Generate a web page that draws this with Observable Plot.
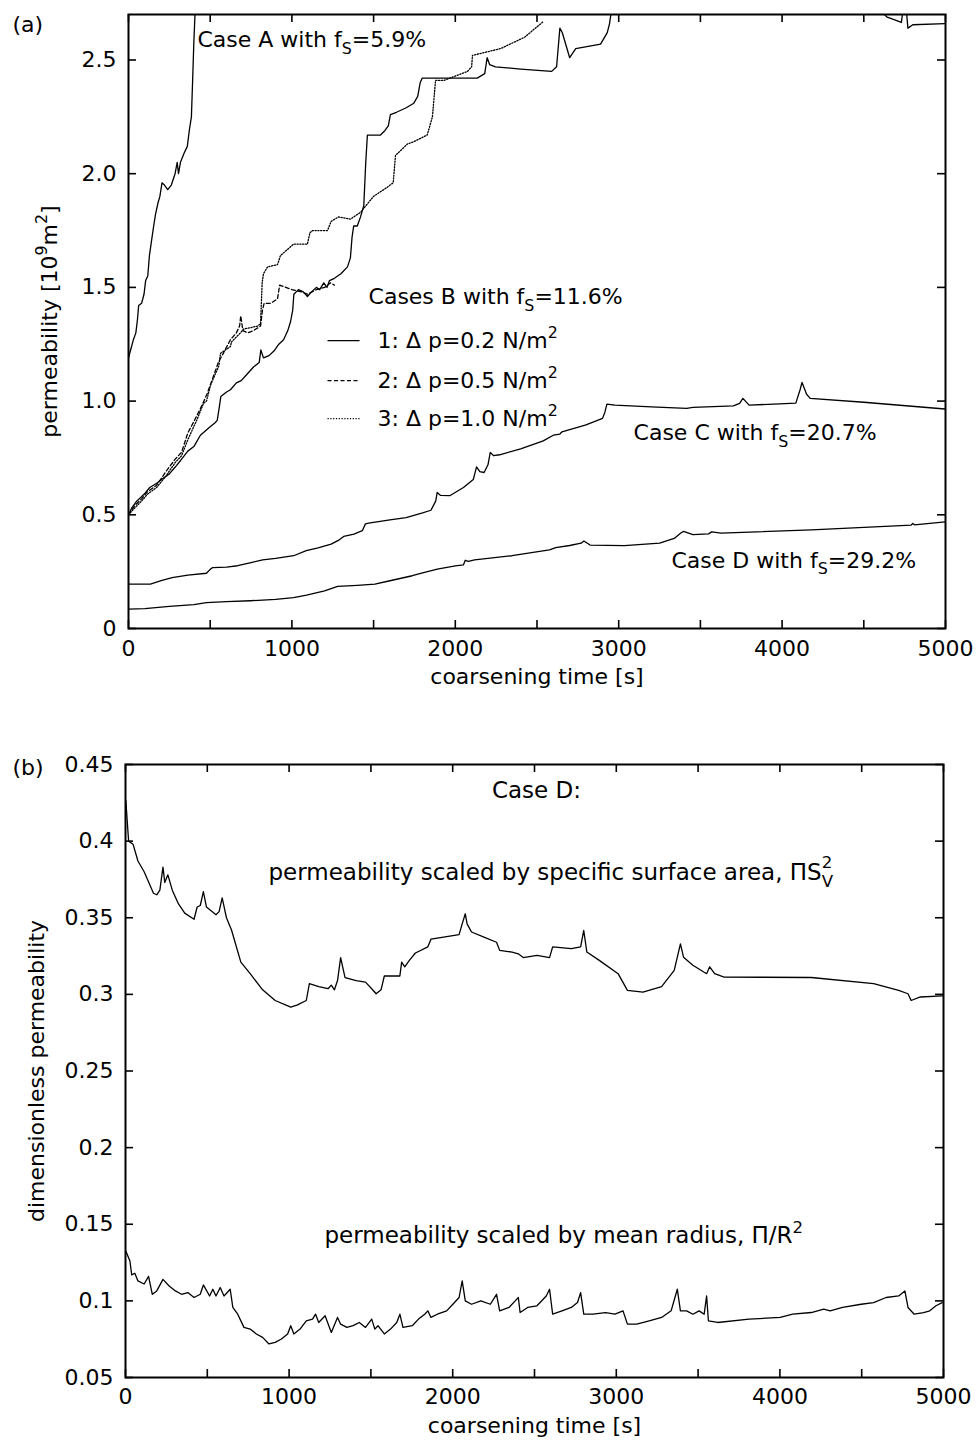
<!DOCTYPE html>
<html><head><meta charset="utf-8">
<script src="https://cdn.jsdelivr.net/npm/d3@7"></script>
<script src="https://cdn.jsdelivr.net/npm/@observablehq/plot@0.6"></script>
<style>
body{margin:0;background:#fff;}
#chart svg{display:block;}
</style>
</head><body><div id="chart"></div>
<script>
// ---------- DATA (time [s], value) ----------
const caseA = [[0,1.19],[15,1.23],[30,1.27],[45,1.30],[55,1.36],[62,1.42],[80,1.43],[95,1.47],[105,1.53],[118,1.55],[128,1.64],[140,1.70],[152,1.76],[165,1.82],[180,1.87],[192,1.90],[205,1.96],[220,1.95],[240,1.93],[262,1.95],[285,2.00],[298,2.05],[306,2.00],[318,2.05],[340,2.09],[360,2.12],[372,2.19],[385,2.25],[392,2.40],[400,2.58],[408,2.72]];
const caseB1 = [[0,0.50],[20,0.53],[50,0.56],[95,0.59],[130,0.62],[175,0.64],[210,0.66],[250,0.68],[286,0.71],[320,0.74],[363,0.78],[400,0.80],[440,0.85],[496,0.885],[530,0.905],[543,0.915],[555,0.97],[565,1.02],[600,1.04],[624,1.05],[660,1.08],[690,1.09],[728,1.12],[765,1.15],[800,1.17],[810,1.225],[826,1.19],[860,1.20],[890,1.22],[920,1.25],[949,1.27],[975,1.31],[992,1.35],[1005,1.40],[1012,1.47],[1040,1.49],[1070,1.48],[1095,1.46],[1120,1.48],[1150,1.50],[1170,1.49],[1195,1.52],[1215,1.50],[1230,1.53],[1260,1.54],[1300,1.56],[1340,1.59],[1358,1.63],[1368,1.72],[1378,1.77],[1400,1.77],[1420,1.81],[1440,1.86],[1452,2.05],[1462,2.17],[1500,2.17],[1542,2.17],[1570,2.19],[1590,2.21],[1603,2.26],[1640,2.27],[1700,2.29],[1746,2.31],[1770,2.34],[1785,2.40],[1797,2.42],[1900,2.42],[2000,2.42],[2134,2.42],[2180,2.44],[2195,2.51],[2210,2.48],[2246,2.47],[2400,2.46],[2590,2.45],[2620,2.47],[2640,2.64],[2655,2.62],[2700,2.51],[2737,2.55],[2889,2.57],[2930,2.62],[2944,2.66],[2956,2.72],[4600,2.72],[4640,2.69],[4730,2.665],[4740,2.72],[4760,2.72],[4770,2.64],[4800,2.655],[5000,2.66]];
const caseB2 = [[0,0.50],[38,0.54],[80,0.57],[115,0.60],[172,0.63],[229,0.69],[286,0.745],[325,0.775],[363,0.86],[400,0.91],[439,0.965],[480,1.03],[515,1.10],[550,1.17],[580,1.21],[624,1.27],[660,1.30],[680,1.33],[687,1.375],[700,1.31],[730,1.30],[765,1.31],[808,1.33],[820,1.40],[830,1.43],[870,1.43],[912,1.45],[925,1.51],[1000,1.49],[1060,1.48],[1095,1.47],[1150,1.49],[1200,1.50],[1236,1.52],[1260,1.51]];
const caseB3 = [[0,0.50],[38,0.53],[80,0.56],[115,0.59],[172,0.62],[229,0.67],[286,0.73],[325,0.76],[363,0.83],[420,0.92],[459,0.99],[477,1.00],[502,1.07],[553,1.155],[563,1.21],[624,1.24],[630,1.26],[685,1.30],[706,1.317],[728,1.32],[790,1.33],[808,1.34],[818,1.52],[826,1.56],[851,1.59],[912,1.60],[930,1.64],[1010,1.69],[1095,1.69],[1110,1.74],[1126,1.75],[1218,1.75],[1240,1.79],[1285,1.81],[1358,1.80],[1420,1.83],[1499,1.90],[1583,1.94],[1620,1.96],[1634,2.08],[1706,2.13],[1744,2.14],[1828,2.17],[1860,2.25],[1879,2.41],[1930,2.41],[2075,2.45],[2100,2.47],[2105,2.52],[2277,2.55],[2424,2.60],[2540,2.67]];
const caseC = [[0,0.195],[134,0.195],[200,0.21],[267,0.224],[363,0.235],[477,0.243],[500,0.26],[515,0.268],[600,0.27],[668,0.276],[750,0.29],[821,0.302],[900,0.308],[1011,0.32],[1088,0.342],[1160,0.355],[1240,0.371],[1290,0.39],[1317,0.405],[1380,0.415],[1431,0.43],[1450,0.46],[1470,0.463],[1600,0.478],[1699,0.488],[1800,0.508],[1851,0.52],[1880,0.56],[1889,0.598],[1910,0.585],[1966,0.584],[2050,0.62],[2110,0.655],[2130,0.711],[2150,0.69],[2176,0.686],[2200,0.72],[2214,0.774],[2235,0.76],[2271,0.764],[2400,0.79],[2538,0.825],[2600,0.85],[2640,0.855],[2653,0.865],[2800,0.895],[2901,0.924],[2915,0.95],[2928,0.987],[2977,0.982],[3200,0.975],[3416,0.968],[3454,0.972],[3702,0.979],[3740,0.99],[3760,1.012],[3798,0.982],[3950,0.987],[4084,0.991],[4110,1.05],[4122,1.082],[4150,1.03],[4172,1.012],[4500,0.995],[5000,0.965]];
const caseD = [[0,0.085],[100,0.087],[250,0.097],[400,0.105],[477,0.114],[600,0.118],[745,0.122],[900,0.128],[1010,0.136],[1090,0.147],[1200,0.165],[1280,0.185],[1400,0.19],[1508,0.195],[1600,0.21],[1737,0.232],[1800,0.245],[1890,0.261],[2000,0.275],[2050,0.28],[2061,0.30],[2080,0.295],[2118,0.302],[2347,0.32],[2576,0.346],[2615,0.356],[2700,0.365],[2770,0.375],[2787,0.385],[2825,0.367],[3035,0.364],[3250,0.375],[3340,0.396],[3380,0.42],[3397,0.427],[3454,0.413],[3550,0.416],[3569,0.425],[3626,0.419],[4180,0.434],[4790,0.455],[4800,0.462],[4810,0.456],[5000,0.469]];

const scaledSv = [[2,0.4265],[19,0.40],[46,0.398],[76,0.387],[114,0.38],[171,0.366],[191,0.365],[210,0.368],[229,0.383],[240,0.373],[259,0.378],[286,0.368],[324,0.359],[362,0.353],[419,0.349],[438,0.357],[457,0.358],[476,0.367],[495,0.357],[553,0.352],[572,0.354],[591,0.363],[617,0.350],[648,0.342],[705,0.321],[762,0.3135],[838,0.303],[915,0.296],[1010,0.2917],[1048,0.293],[1105,0.296],[1124,0.307],[1181,0.305],[1238,0.3037],[1258,0.306],[1277,0.303],[1296,0.309],[1315,0.324],[1342,0.311],[1410,0.309],[1467,0.308],[1505,0.3037],[1532,0.3004],[1562,0.303],[1582,0.312],[1677,0.312],[1688,0.321],[1707,0.318],[1734,0.322],[1772,0.327],[1848,0.331],[1867,0.336],[1944,0.3374],[2039,0.339],[2058,0.346],[2077,0.3526],[2088,0.346],[2115,0.3407],[2191,0.3374],[2268,0.334],[2287,0.3287],[2363,0.3276],[2401,0.3265],[2431,0.324],[2515,0.3254],[2592,0.324],[2611,0.331],[2725,0.3298],[2782,0.331],[2801,0.3417],[2820,0.3276],[2896,0.3222],[3011,0.3135],[3068,0.3026],[3163,0.3015],[3277,0.305],[3354,0.3157],[3392,0.333],[3411,0.3243],[3468,0.319],[3552,0.3135],[3571,0.318],[3601,0.3135],[3659,0.3113],[4192,0.311],[4573,0.307],[4726,0.3026],[4783,0.3004],[4802,0.296],[4859,0.2983],[4993,0.299]];
const scaledR = [[2,0.1325],[27,0.126],[38,0.117],[57,0.118],[76,0.113],[114,0.111],[141,0.116],[164,0.1043],[191,0.1065],[229,0.114],[267,0.1097],[305,0.1065],[343,0.1043],[381,0.1054],[419,0.1022],[457,0.1043],[476,0.1104],[514,0.1032],[534,0.1076],[553,0.1032],[579,0.1087],[602,0.1032],[640,0.1076],[656,0.0957],[686,0.0913],[724,0.0827],[762,0.0816],[800,0.0784],[838,0.0762],[877,0.0719],[915,0.0729],[953,0.0751],[991,0.0784],[1010,0.0838],[1029,0.0784],[1067,0.0816],[1105,0.087],[1143,0.0881],[1162,0.0913],[1181,0.0859],[1220,0.0903],[1258,0.0794],[1296,0.0892],[1315,0.0848],[1353,0.0827],[1391,0.0838],[1429,0.0859],[1467,0.0827],[1505,0.0881],[1524,0.0816],[1543,0.0838],[1582,0.0784],[1620,0.0816],[1658,0.0859],[1677,0.0913],[1696,0.0827],[1753,0.0838],[1791,0.0881],[1829,0.0913],[1848,0.0935],[1867,0.0892],[1906,0.0913],[1963,0.0935],[2001,0.0978],[2039,0.1022],[2058,0.113],[2077,0.1],[2115,0.0978],[2172,0.1],[2230,0.0978],[2268,0.1043],[2287,0.0935],[2344,0.0957],[2382,0.1],[2401,0.1022],[2412,0.0924],[2458,0.0957],[2515,0.0968],[2572,0.1032],[2592,0.1076],[2611,0.0913],[2668,0.0935],[2725,0.0957],[2763,0.0989],[2782,0.1054],[2801,0.0913],[2858,0.0913],[2934,0.0924],[2992,0.0913],[3041,0.0935],[3068,0.0848],[3125,0.0848],[3201,0.087],[3277,0.0892],[3335,0.0935],[3373,0.1076],[3392,0.0935],[3430,0.0935],[3468,0.0913],[3506,0.0935],[3537,0.0913],[3552,0.1032],[3563,0.087],[3620,0.0859],[3811,0.0881],[4002,0.0892],[4078,0.0913],[4192,0.0924],[4268,0.0946],[4307,0.0935],[4383,0.0957],[4497,0.0978],[4573,0.0989],[4649,0.1022],[4726,0.1032],[4764,0.1065],[4783,0.0957],[4821,0.0913],[4878,0.0924],[4916,0.0935],[4954,0.0968],[4992,0.0989]];

const xTickLabels = [0, 1000, 2000, 3000, 4000, 5000];
const xMinorTicks = [0, 500, 1000, 1500, 2000, 2500, 3000, 3500, 4000, 4500, 5000];
const yTicksA = [0, 0.5, 1.0, 1.5, 2.0, 2.5];
const yTicksB = [0.05, 0.1, 0.15, 0.2, 0.25, 0.3, 0.35, 0.4, 0.45];

// ---------- helpers ----------
const FONT = "DejaVu Sans";
const rows = (pairs) => pairs.map(([t, v]) => ({t, v}));
const lineOpts = {x: "t", y: "v", stroke: "black", strokeWidth: 1.3, clip: true};
const DASH = "4,2.5";
const DOT = "1.2,1.6";

function inwardTicks(W, H, yTicks, len = 8) {
  const o = {stroke: "black", strokeWidth: 1.6};
  return [
    Plot.ruleX(xMinorTicks, {...o, insetTop: H - len}),
    Plot.ruleX(xMinorTicks, {...o, insetBottom: H - len}),
    Plot.ruleY(yTicks, {...o, insetRight: W - len}),
    Plot.ruleY(yTicks, {...o, insetLeft: W - len})
  ];
}

function richify(svg) {
  svg.querySelectorAll("text").forEach((el) => {
    const s = el.textContent;
    if (!/[_^]\{/.test(s) || el.querySelector("tspan")) return;
    const fs = parseFloat(getComputedStyle(el).fontSize) || 22;
    while (el.firstChild) el.removeChild(el.firstChild);
    const re = /(\^\^|_|\^)\{([^}]*)\}/g;
    let last = 0, m, cur = 0, prev = null;
    const add = (txt, off, small, dx) => {
      const t = document.createElementNS("http://www.w3.org/2000/svg", "tspan");
      t.textContent = txt;
      const dy = off - cur;
      if (dy) t.setAttribute("dy", dy);
      if (dx) t.setAttribute("dx", dx);
      if (small) t.setAttribute("font-size", fs * 0.72);
      el.appendChild(t);
      cur = off;
      return t;
    };
    while ((m = re.exec(s))) {
      if (m.index > last) prev = add(s.slice(last, m.index), 0, false);
      if (m[1] === "_") prev = add(m[2], fs * 0.3, true);
      else if (m[1] === "^") prev = add(m[2], -fs * 0.42, true);
      else {
        const w = prev ? prev.getComputedTextLength() : 0;
        prev = add(m[2], -fs * 0.5, true, -w);
      }
      last = re.lastIndex;
    }
    if (last < s.length) add(s.slice(last), 0, false);
  });
}

// ---------- panel (a) ----------
const WA = 978 - 128 - 33, HA = 700 - 14 - 72;
const notesA = [
  {t: 422, v: 2.586, text: "Case A with f_{S}=5.9%"},
  {t: 1469, v: 1.456, text: "Cases B with f_{S}=11.6%"},
  {t: 1524, v: 1.266, text: "1: Δ p=0.2 N/m^{2}"},
  {t: 1524, v: 1.090, text: "2: Δ p=0.5 N/m^{2}"},
  {t: 1524, v: 0.923, text: "3: Δ p=1.0 N/m^{2}"},
  {t: 3091, v: 0.858, text: "Case C with f_{S}=20.7%"},
  {t: 3323, v: 0.299, text: "Case D with f_{S}=29.2%"}
];
const legend1 = [{t1: 1218, t2: 1414, v: 1.266}];
const legend2 = [{t1: 1218, t2: 1414, v: 1.090}];
const legend3 = [{t1: 1218, t2: 1414, v: 0.923}];
const linkOpts = {x1: "t1", x2: "t2", y1: "v", y2: "v", stroke: "black", strokeWidth: 1.3};

const chartA = Plot.plot({
  width: 978, height: 700,
  marginLeft: 128, marginRight: 33, marginTop: 14, marginBottom: 72,
  style: {fontFamily: FONT, fontSize: "22px", color: "black", background: "white", overflow: "visible"},
  x: {domain: [0, 5000]},
  y: {domain: [0, 2.7]},
  marks: [
    Plot.axisX({ticks: xTickLabels, tickSize: 0, tickPadding: 12, tickFormat: (d) => String(d), label: null}),
    Plot.axisY({ticks: yTicksA, tickSize: 0, tickPadding: 12, tickFormat: (d) => (d === 0 ? "0" : d.toFixed(1)), label: null}),
    ...inwardTicks(WA, HA, yTicksA),
    Plot.line(rows(caseA), lineOpts),
    Plot.line(rows(caseB1), lineOpts),
    Plot.line(rows(caseB2), {...lineOpts, strokeDasharray: DASH}),
    Plot.line(rows(caseB3), {...lineOpts, strokeDasharray: DOT}),
    Plot.line(rows(caseC), lineOpts),
    Plot.line(rows(caseD), lineOpts),
    Plot.frame({stroke: "black", strokeWidth: 2}),
    Plot.link(legend1, linkOpts),
    Plot.link(legend2, {...linkOpts, strokeDasharray: DASH}),
    Plot.link(legend3, {...linkOpts, strokeDasharray: DOT}),
    Plot.text(notesA, {x: "t", y: "v", text: "text", textAnchor: "start", lineAnchor: "middle", fontSize: 22, fill: "black"}),
    Plot.text(["(a)"], {frameAnchor: "top-left", dx: -116, dy: 10, textAnchor: "start", lineAnchor: "middle", fontSize: 22}),
    Plot.text(["permeability [10^{9}m^{2}]"], {frameAnchor: "left", dx: -79, rotate: -90, textAnchor: "middle", lineAnchor: "middle", fontSize: 22}),
    Plot.text(["coarsening time [s]"], {frameAnchor: "bottom", dy: 48, textAnchor: "middle", lineAnchor: "middle", fontSize: 22})
  ]
});

// ---------- panel (b) ----------
const WB = 978 - 125 - 35, HB = 743 - 64 - 66;
const titleB = [{t: 2512, v: 0.433, text: "Case D:"}];
const notesB = [
  {t: 874, v: 0.3795, text: "permeability scaled by specific surface area, ΠS_{V}^^{2}"},
  {t: 1216, v: 0.1426, text: "permeability scaled by mean radius, Π/R^{2}"}
];

const chartB = Plot.plot({
  width: 978, height: 743,
  marginLeft: 125, marginRight: 35, marginTop: 64, marginBottom: 66,
  style: {fontFamily: FONT, fontSize: "22px", color: "black", background: "white", overflow: "visible"},
  x: {domain: [0, 5000]},
  y: {domain: [0.05, 0.45]},
  marks: [
    Plot.axisX({ticks: xTickLabels, tickSize: 0, tickPadding: 11, tickFormat: (d) => String(d), label: null}),
    Plot.axisY({ticks: yTicksB, tickSize: 0, tickPadding: 12, tickFormat: (d) => String(+d.toFixed(2)), label: null}),
    ...inwardTicks(WB, HB, yTicksB),
    Plot.line(rows(scaledSv), lineOpts),
    Plot.line(rows(scaledR), lineOpts),
    Plot.frame({stroke: "black", strokeWidth: 2}),
    Plot.text(titleB, {x: "t", y: "v", text: "text", textAnchor: "middle", lineAnchor: "middle", fontSize: 23, fill: "black"}),
    Plot.text(notesB, {x: "t", y: "v", text: "text", textAnchor: "start", lineAnchor: "middle", fontSize: 23, fill: "black"}),
    Plot.text(["(b)"], {frameAnchor: "top-left", dx: -113, dy: 3, textAnchor: "start", lineAnchor: "middle", fontSize: 22}),
    Plot.text(["dimensionless permeability"], {frameAnchor: "left", dx: -89, rotate: -90, textAnchor: "middle", lineAnchor: "middle", fontSize: 22}),
    Plot.text(["coarsening time [s]"], {frameAnchor: "bottom", dy: 48, textAnchor: "middle", lineAnchor: "middle", fontSize: 22})
  ]
});

const host = document.getElementById("chart");
host.appendChild(chartA);
host.appendChild(chartB);
richify(chartA);
richify(chartB);
</script>
</body></html>
